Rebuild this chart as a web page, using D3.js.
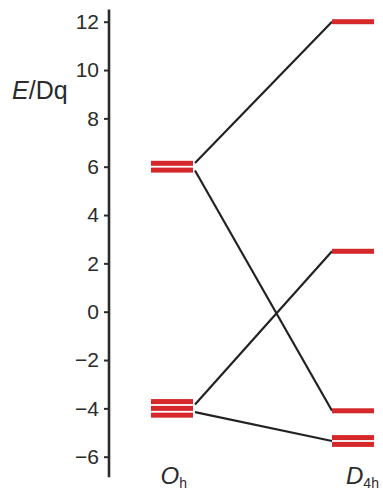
<!DOCTYPE html>
<html>
<head>
<meta charset="utf-8">
<script src="https://cdn.jsdelivr.net/npm/d3@7"></script>
<style>
    body { margin: 0; background: #fff; }
    svg { display: block; font-family: "Liberation Sans", Arial, sans-serif; }
    .axis path, .axis line { stroke: #2b2b2b; }
    .axis text { fill: #2b2b2b; font-size: 21px; }
</style>
</head>
<body>
<script>
(function(){

    // symmetry columns
    var groups = ["Oh", "D4h"];
    var groupMain = ["O", "D"];
    var groupSub = ["h", "4h"];

    // energy levels (Dq) and their degeneracy
    var ohLevels = [6, -4];
    var ohDegeneracy = [2, 3];
    var d4hLevels = [12, 2.5, -4.1, -5.35];
    var d4hDegeneracy = [1, 1, 1, 2];

    // correlation lines: Oh level -> D4h level, side of the start (-1 upper, 1 lower)
    var linkFrom = [6, 6, -4, -4];
    var linkTo = [12, -4.1, 2.5, -5.35];
    var linkSide = [-1, 1, -1, 1];

    var yTicks = [-6, -4, -2, 0, 2, 4, 6, 8, 10, 12];

    window.onload = setChart();

    function setChart() {

        var width = 383,
            height = 490,
            axisX = 109,
            barWidth = 42,
            barHeight = 5,
            barGap = 6.8;

        var svg = d3.select("body")
            .append("svg")
            .attr("width", width)
            .attr("height", height);

        var yScale = d3.scaleLinear()
            .domain([-6, 12])
            .range([456.7, 21.7]);

        var xScale = d3.scalePoint()
            .domain(groups)
            .range([172, 353]);

        var yAxis = d3.axisLeft(yScale)
            .tickValues(yTicks)
            .tickSize(5)
            .tickSizeOuter(0)
            .tickPadding(5)
            .tickFormat(d3.format("d"));

        var axis = svg.append("g")
            .attr("class", "axis")
            .attr("transform", "translate(" + axisX + ",0)")
            .call(yAxis);

        axis.select(".domain").remove();
        axis.selectAll(".tick line").attr("stroke-width", 2);

        // axis line drawn a bit past the ticks
        axis.append("line")
            .attr("y1", yScale(12.5))
            .attr("y2", yScale(-6.85))
            .attr("stroke", "#2b2b2b")
            .attr("stroke-width", 2.6);

        // y label
        var yLabel = svg.append("text")
            .attr("x", 12)
            .attr("y", 99)
            .attr("fill", "#2b2b2b")
            .attr("font-size", 25);
        yLabel.append("tspan").attr("font-style", "italic").text("E");
        yLabel.append("tspan").text("/Dq");

        // correlation lines
        var links = linkFrom.map(function(d, i) {
            return { from: d, to: linkTo[i], side: linkSide[i] };
        });

        svg.selectAll(".link")
            .data(links)
            .enter()
            .append("line")
            .attr("class", "link")
            .attr("x1", xScale("Oh") + barWidth / 2 + 2)
            .attr("y1", function(d) { return yScale(d.from) + d.side * 3.8; })
            .attr("x2", xScale("D4h") - barWidth / 2)
            .attr("y2", function(d) { return yScale(d.to); })
            .attr("stroke", "#222")
            .attr("stroke-width", 2.2);

        // level bars, one rect per degenerate orbital
        var bars = [];
        ohLevels.forEach(function(e, i) {
            for (var k = 0; k < ohDegeneracy[i]; k++) {
                bars.push({ group: "Oh", e: e, k: k - (ohDegeneracy[i] - 1) / 2 });
            }
        });
        d4hLevels.forEach(function(e, i) {
            for (var k = 0; k < d4hDegeneracy[i]; k++) {
                bars.push({ group: "D4h", e: e, k: k - (d4hDegeneracy[i] - 1) / 2 });
            }
        });

        svg.selectAll(".level")
            .data(bars)
            .enter()
            .append("rect")
            .attr("class", "level")
            .attr("x", function(d) { return xScale(d.group) - barWidth / 2; })
            .attr("y", function(d) { return yScale(d.e) + d.k * barGap - barHeight / 2; })
            .attr("width", barWidth)
            .attr("height", barHeight)
            .attr("fill", "#d6282b");

        // group labels
        var labelX = [160.5, 346];

        groups.forEach(function(g, i) {
            var t = svg.append("text")
                .attr("x", labelX[i])
                .attr("y", 484)
                .attr("fill", "#2b2b2b")
                .attr("font-size", 24);
            t.append("tspan").attr("font-style", "italic").text(groupMain[i]);
            t.append("tspan")
                .attr("font-size", 14)
                .attr("dy", 4)
                .text(groupSub[i]);
        });
    }

})();
</script>
</body>
</html>
